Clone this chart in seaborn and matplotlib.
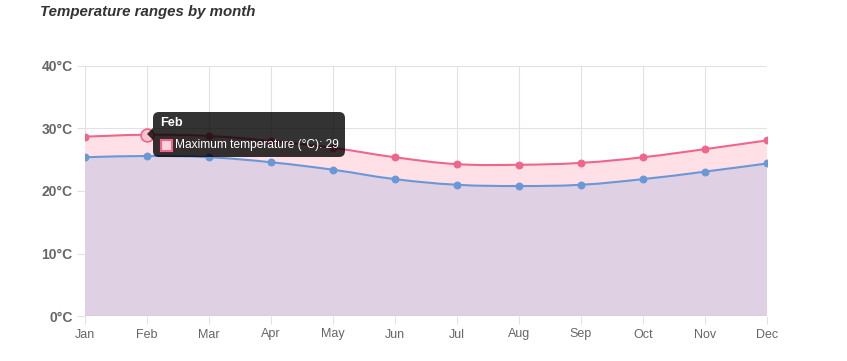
import numpy as np
import pandas as pd
import seaborn as sns
import matplotlib.pyplot as plt
from matplotlib.path import Path
from matplotlib.patches import PathPatch, FancyBboxPatch, Rectangle, Polygon

months = ['Jan', 'Feb', 'Mar', 'Apr', 'May', 'Jun', 'Jul', 'Aug', 'Sep', 'Oct', 'Nov', 'Dec']
max_temp = [28.7, 29.0, 28.8, 28.0, 26.9, 25.4, 24.3, 24.2, 24.5, 25.4, 26.7, 28.1]
min_temp = [25.4, 25.6, 25.4, 24.6, 23.4, 21.9, 21.0, 20.8, 21.0, 21.9, 23.1, 24.4]
y_ticks = [0, 10, 20, 30, 40]

df = pd.DataFrame({'x': range(len(months)), 'month': months, 'max': max_temp, 'min': min_temp})

PINK = '#f0668a'
BLUE = '#6a98d6'
PINK_FILL = '#ffe0e6'
PURPLE_FILL = '#dfd0e4'
GRID = '#e2e2e2'
TEXT = '#666666'
W, H = 847, 361

sns.set_theme(style='white')
plt.rcParams['font.family'] = ['Liberation Sans', 'DejaVu Sans']


def spline_segments(xs, ys, t=0.4):
    # bezier control points like Chart.js, computed in rough pixel space
    sx, sy = 62.0, 6.25
    px = np.array(xs, float) * sx
    py = np.array(ys, float) * sy
    n = len(px)
    verts = [(xs[0], ys[0])]
    codes = [Path.MOVETO]
    cps = []
    for i in range(n):
        p0 = max(i - 1, 0)
        p2 = min(i + 1, n - 1)
        d01 = np.hypot(px[i] - px[p0], py[i] - py[p0])
        d12 = np.hypot(px[p2] - px[i], py[p2] - py[i])
        tot = d01 + d12 if d01 + d12 > 0 else 1
        fa = t * d01 / tot
        fb = t * d12 / tot
        dx = px[p2] - px[p0]
        dy = py[p2] - py[p0]
        prev_cp = ((px[i] - fa * dx) / sx, (py[i] - fa * dy) / sy)
        next_cp = ((px[i] + fb * dx) / sx, (py[i] + fb * dy) / sy)
        cps.append((prev_cp, next_cp))
    for i in range(1, n):
        verts += [cps[i - 1][1], cps[i][0], (xs[i], ys[i])]
        codes += [Path.CURVE4] * 3
    return verts, codes


fig = plt.figure(figsize=(W / 100, H / 100), dpi=100)
ax = fig.add_axes([85 / W, 45 / H, 682 / W, 250 / H])

xs = list(df['x'])
vmax, cmax = spline_segments(xs, max_temp)
vmin, cmin = spline_segments(xs, min_temp)

# area under min
verts = vmin + [(xs[-1], 0), (xs[0], 0), (xs[0], min_temp[0])]
codes = cmin + [Path.LINETO, Path.LINETO, Path.CLOSEPOLY]
ax.add_patch(PathPatch(Path(verts, codes), facecolor=PURPLE_FILL, edgecolor='none', zorder=1))

# area between min and max (min curve walked backwards)
rv = [(xs[-1], min_temp[-1])]
rc = [Path.LINETO]
for i in range(len(xs) - 1, 0, -1):
    seg = vmin[1 + 3 * (i - 1): 1 + 3 * i]
    rv += [seg[1], seg[0], (xs[i - 1], min_temp[i - 1])]
    rc += [Path.CURVE4] * 3
verts = vmax + rv + [(xs[0], max_temp[0])]
codes = cmax + rc + [Path.CLOSEPOLY]
ax.add_patch(PathPatch(Path(verts, codes), facecolor=PINK_FILL, edgecolor='none', zorder=1))

ax.add_patch(PathPatch(Path(vmax, cmax), facecolor='none', edgecolor=PINK, lw=1.5, zorder=3))
ax.add_patch(PathPatch(Path(vmin, cmin), facecolor='none', edgecolor=BLUE, lw=1.5, zorder=3))

sns.scatterplot(data=df, x='x', y='max', color=PINK, s=24, edgecolor=PINK, linewidth=0.8, ax=ax, zorder=4)
sns.scatterplot(data=df, x='x', y='min', color=BLUE, s=24, edgecolor=BLUE, linewidth=0.8, ax=ax, zorder=4)
# hovered point
ax.scatter([1], [max_temp[1]], s=85, facecolor='#fbc3d0', edgecolor=PINK, linewidth=1.2, zorder=5)

ax.set_xlim(0, 11)
ax.set_ylim(0, 40)
ax.set_xticks(range(12))
ax.set_xticklabels(months, color=TEXT, fontsize=9)
ax.set_yticks(y_ticks)
ax.set_yticklabels([f'{v}°C' for v in y_ticks], color=TEXT, fontsize=10, fontweight='bold')
ax.set_xlabel('')
ax.set_ylabel('')
for s in ax.spines.values():
    s.set_visible(False)
ax.grid(True, color=GRID, lw=0.8, zorder=0)
ax.set_axisbelow(True)
ax.axhline(0, color='#c8c8c8', lw=1, zorder=2)
ax.tick_params(axis='both', length=6, color=GRID, width=0.8, pad=3, bottom=True, left=True)

fig.text(40 / W, 1 - 12 / H, 'Temperature ranges by month', fontsize=10.8,
         fontweight='bold', fontstyle='italic', color='#333333', va='center', ha='left')

# tooltip (pixel coordinates, origin bottom-left)
x0, y0, w, h = 153, 112, 192, 45
box = FancyBboxPatch((x0, H - y0 - h), w, h, boxstyle='round,pad=0,rounding_size=6',
                     transform=None, facecolor=(0, 0, 0, 0.8), edgecolor='none', zorder=10)
fig.add_artist(box)
fig.add_artist(Polygon([(x0, H - 128), (x0 - 6, H - 134), (x0, H - 140)], closed=True,
                       transform=None, facecolor=(0, 0, 0, 0.8), edgecolor='none', zorder=10))
fig.text(160 / W, 1 - 123 / H, 'Feb', fontsize=9.2, fontweight='bold', color='white',
         va='center', ha='left', zorder=11)
fig.add_artist(Rectangle((161, H - 151), 11, 11, transform=None,
                         facecolor='#fbd3dc', edgecolor=PINK, lw=1.5, zorder=11))
fig.text(175 / W, 1 - 145 / H, 'Maximum temperature (°C): 29', fontsize=8.6, color='white',
         va='center', ha='left', zorder=11)

fig.savefig('out.png', dpi=100)
